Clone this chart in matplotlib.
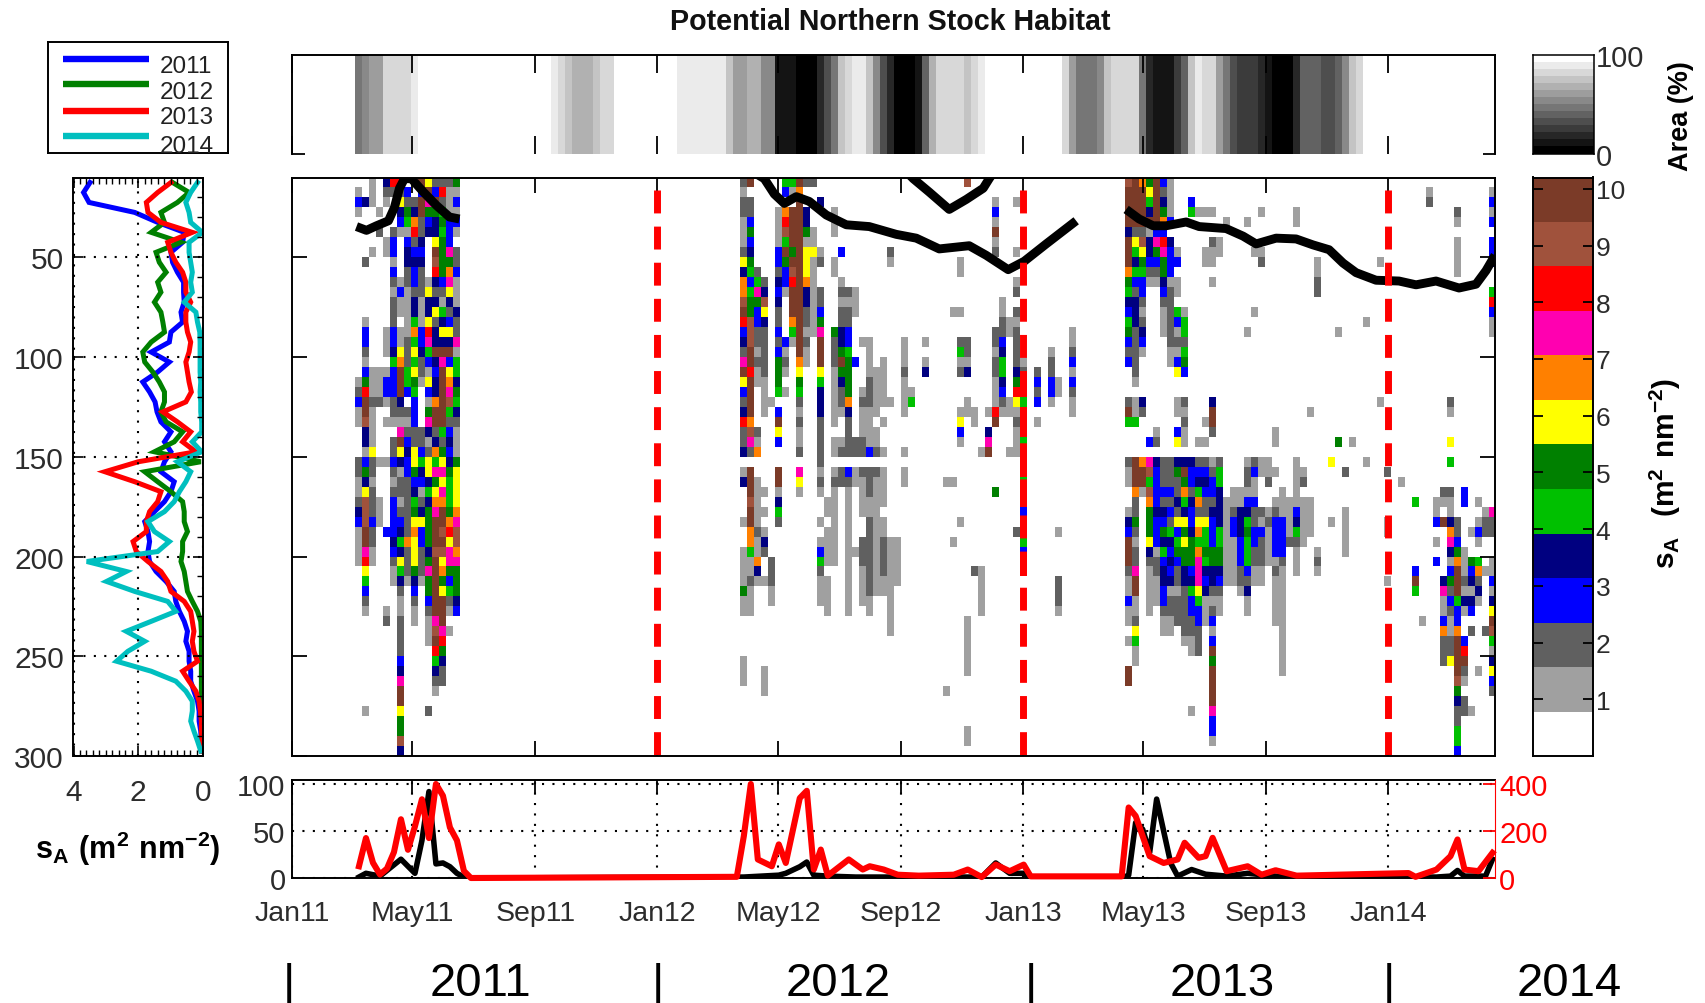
import numpy as np
import matplotlib
matplotlib.use("Agg")
import matplotlib.pyplot as plt
from matplotlib.colors import ListedColormap, BoundaryNorm, Normalize
from matplotlib.ticker import FixedLocator

plt.rcParams['font.family'] = ['Liberation Sans', 'DejaVu Sans']
plt.rcParams['mathtext.fontset'] = 'custom'
plt.rcParams['mathtext.rm'] = 'Liberation Sans'
plt.rcParams['mathtext.bf'] = 'Liberation Sans:bold'

W, H = 1706, 1004

# ---------- data ----------
TITLE = "Potential Northern Stock Habitat"
TICK_DAYS = [0, 120, 243, 365, 486, 609, 731, 851, 974, 1096]
TICK_LABELS = ["Jan11", "May11", "Sep11", "Jan12", "May12", "Sep12", "Jan13", "May13", "Sep13", "Jan14"]
NEW_YEAR_DAYS = [365, 731, 1096]
DEPTH_TICKS = [50, 100, 150, 200, 250, 300]
YEARS = ["2011", "2012", "2013", "2014"]

# Weekly Area (%) per week index; weeks not listed are 100
AREA_SEGMENTS = {
    9: [44, 50, 62, 63, 82, 82, 82, 82, 91],
    31: [97],
    37: [91, 82, 72, 66, 66, 66, 72, 82, 82],
    55: [91, 91, 91, 91, 91, 91, 91, 75, 63, 63, 66, 66, 55, 50, 11, 11, 11, 0, 0, 0, 20, 30, 44, 75, 85, 91, 91,
         75, 50, 31, 16, 0, 0, 0, 12, 38, 69, 82, 82, 82, 82, 75, 80, 91],
    110: [82, 63, 44, 44, 44, 50, 75, 82, 82, 82, 82, 45, 16, 11, 11, 14, 25, 40, 75, 91, 82, 82, 63, 44, 35, 25,
          25, 25, 20, 11, 6, 0, 0, 19, 38, 38, 38, 31, 31, 38, 50, 75, 85],
}

# Mean profile sA per 5 m depth bin
PROFILE_DEPTHS = [12.5 + 5 * i for i in range(58)]
P2011 = [3.49, 3.69, 3.52, 2.11, 1.4, .58, .63, .99, .94, .79, .6, .6, .58, .68, .63, .99, 1.04, 1.6, 1.04, 1.4,
         1.86, 1.65, 1.48, 1.42, 1.3, .99, 1.19, .99, 1.19, 1.3, .89, .99, 1.19, 1.5, 1.8, 1.7, 1.65, 1.7, 1.65,
         1.45, 1.14, .89, .84, .73, .58, .48, .53, .43, .43, .38, .38, .28, .17, .12, .12, .07, .05, .02]
P2012 = [.94, .43, .79, 1.3, 1.19, 1.6, .68, 1.45, 1.35, 1.14, 1.4, 1.3, 1.5, 1.3, 1.24, 1.19, 1.6, 1.86, 1.8, 1.55,
         1.35, 1.19, 1.19, 1.3, 1.14, .63, .89, 1.5, .07, 1.8, 1.4, .99, .63, .58, .58, .48, .63, .63, .68, .58,
         .53, .48, .33, .17, .07, .05, .05, .05, .05, .05, .05, .05, .04, .04, .03, .03, .03, .02]
P2013 = [.99, 1.4, 1.75, 1.7, 1.3, .33, 1.09, .99, .84, .63, .53, .53, .38, .53, .53, .48, .38, .43, .53, .48, .43,
         .36, .53, 1.24, .79, .38, .63, .22, 2.0, 3.03, 2.11, 1.3, 1.4, 1.65, 1.75, 1.75, 2.16, 2.06, 1.7, 1.3,
         1.09, .99, .58, .38, .33, .28, .33, .28, .17, .63, .43, .22, .12, .08, .05, .05, .03, .02]
P2014 = [.17, .38, .53, .43, .38, .02, .43, .43, .38, .33, .38, .33, .58, .22, .17, .1, .09, .09, .09, .09, .07, .09,
         .07, .07, .04, .04, .33, .04, .79, .38, .53, .73, .89, 1.19, 1.7, 1.5, 1.04, 1.4, 3.59, 2.37, 2.98, 2.11,
         1.09, .84, 1.6, 2.37, 1.8, 2.32, 2.67, 1.6, .84, .53, .33, .33, .38, .28, .17, .07]
PROFILE_SERIES = [P2011, P2012, P2013, P2014]
PROFILE_COLORS = ["#0000FF", "#008000", "#FF0000", "#00BFBF"]

# Black line: days since Jan 2011, depth (m)
LINE_A_DAY = [64, 74, 84, 96, 102, 107, 112, 119, 131, 144, 157, 167]
LINE_A_DEPTH = [34.6, 36.5, 34.2, 31.7, 25, 15.4, 10.6, 10.6, 17.3, 24, 29.8, 30.8]
LINE_B_DAY = [460, 472, 482, 492, 504, 517, 534, 554, 577, 604, 624, 647, 677, 694, 716, 732, 754, 784]
LINE_B_DEPTH = [7, 10.6, 18.3, 23, 19.6, 22, 28.8, 33.7, 34.6, 38.5, 40.4, 45.8, 44.2, 49, 56.2, 52, 43.3, 31.7]
LINE_C_DAY = [612, 621, 637, 657, 674, 691, 697, 703]
LINE_C_DEPTH = [6, 10.6, 17.3, 26, 21, 15.4, 10.6, 6]
LINE_D_DAY = [834, 847, 861, 874, 894, 907, 934, 951, 964, 984, 1004, 1021, 1037, 1051, 1064, 1084, 1107, 1124,
              1144, 1167, 1184, 1194, 1203]
LINE_D_DEPTH = [26, 30.8, 34.2, 34.2, 32.3, 34.6, 35.6, 39.4, 43.3, 40.4, 40.8, 43.8, 46.2, 52.9, 57.7, 61.5, 61.9,
                63.8, 61.9, 65.4, 63.5, 56.7, 49]

# Lower panel: week index and value
RED_WEEK = [9, 10, 11, 12, 13, 14, 15, 16, 17, 18, 19, 20, 21, 22, 23, 24, 25, 63, 64, 65, 66, 68, 69, 70, 72, 73, 74,
            75, 76, 79, 81, 82, 84, 86, 89, 94, 96, 98, 100, 102, 104, 105, 118, 119, 120, 122, 124, 126, 127, 129,
            130, 131, 133, 136, 138, 140, 143, 159, 160, 163, 165, 166, 167, 169, 171]
RED_VAL = [50, 170, 65, 15, 40, 110, 250, 120, 220, 335, 170, 400, 350, 215, 160, 30, 0, 5, 178, 400, 79, 50, 143, 64,
           340, 371, 36, 121, 10, 79, 36, 50, 36, 14, 10, 14, 36, 4, 57, 29, 57, 7, 7, 300, 264, 93, 64, 79, 150,
           86, 93, 171, 29, 50, 14, 33, 10, 21, 5, 36, 93, 164, 36, 29, 107]
BLACK_WEEK = [9, 10, 12, 15, 17, 18, 19, 20, 21, 22, 23, 24, 25, 64, 69, 70, 72, 73, 74, 76, 80, 90, 98, 100, 102, 104,
              105, 118, 119, 120, 121, 122, 123, 124, 125, 126, 128, 130, 133, 136, 140, 143, 163, 165, 166, 167, 170,
              171]
BLACK_VAL = [1, 5, 2, 20, 5, 40, 92, 15, 16, 12, 5, 1, 0, 1, 3, 5, 12, 17, 3, 2, 1, 1, 1, 16, 5, 5, 0, 0, 3, 59, 52, 27,
             84, 50, 16, 2, 9, 4, 2, 5, 2, 1, 1, 2, 8, 2, 2, 20]

# Band codes: . white, 1 grey, 2 dark grey, 3 blue, 4 navy, 5 green, 6 dark green, 7 yellow, 8 orange, 9 magenta,
# r red, s sienna, b brown. week index -> "first depth row: codes; ..."
SA_CELLS = {
    9: "1:131; 20:12311; 28:22112431111",
    10: "2:4; 8:2; 14:133213 6rbbs 44136 47sss bb9r7 5321; 53:1",
    11: "0:111; 7:1; 19:111; 22:2; 23:1111; 27:7; 28:22; 30:1; 31:222; 34:3; 35:22; 37:11",
    12: "3:1; 5:2; 19:111; 22:2; 28:1; 32:111",
    13: "0:4; 1:21; 6:11; 15:111; 19:133; 22:1; 24:1; 28:1; 35:3; 43:12",
    14: "0:r2; 5:233; 8:1; 9:321; 12:222; 15:3345333 221 . 2232 12 3333 432 11",
    15: "0:r27431; 10:1311. 1178b bb421 9b741 22123 45475 42112 22234 9bb76 6s4",
    16: "1:32651 34422 11111 22255 3.212 34332 22222 82221",
    17: "2:248r2 34332 44585 75765 33322 77634 56787 77643 211",
    18: "0:b3bb2 24342 22111 33422 1.... 22354 31247 33222 1",
    19: "0:7b963 4.... 17447 r9531 73169 41277 45466 66469 66321 11; 53:2",
    20: "0:23b64 47bsr 42472 44b43 448bb 24859 6789b bbsbb bbbb9 sbr54 21",
    21: "0:2r256 56666 32154 74b9b bbbbb 52679 798bb sbs78 67bbb 9r642 2",
    22: "0:21113 33968 97423 74b37 89s52 34346 55568 r7996 3521. 1",
    23: "0:61313 1.223 11142 29155 46542 11167 77789 ss896 6643",
    64: "0:21221 11274 88sbr 3429b 7324r 224; 29:14; 34:1; 37:1111611; 48:111",
    65: "0:b; 2:22363 46535 66sss bbrbb bb8s9 2; 29:bbbsb b8851 12111",
    66: "9:25963 32212 11; 25:218; 30:11111 21184 1",
    67: "10:24s74 22222 1111; 31:1; 33:1; 35:142; 40:1; 49:111",
    68: "22:1; 38:22211",
    69: "3:11113 32434 22323 6665; 23:3b73; 29:bb145 2",
    70: "0:53.8r s5b63 31; 16:31; 18:21; 21:1",
    71: "0:51.bb bb6bs rbbb8 51",
    72: "0:b8bbb bbbbb bbbbb bbb87 65212 112; 29:971",
    73: "0:2; 3:44617 77844 22121 1",
    74: "0:2; 5:11711 11111 1",
    75: "2:4; 7:12; 11:22 36 9bbb7 54442 2222; 29:121; 34:1; 36:135 2111",
    76: "32:11; 35:1111; 40:1111",
    77: "3:111; 8:11; 15:62221 11111; 26:11; 29:12111 11111",
    78: "7:3; 10:12122 44 6b642 21; 26:12; 29:22",
    79: "11:21223 35666 68422 22; 29:32111 11111 11111",
    80: "11:111; 18:3; 26:22; 29:11; 37:1",
    81: "16:1; 21:12111 22; 29:21111; 36:22211 11",
    82: "16:11112 22111 13; 29:22211 22222 22211",
    83: "19:11111; 25:112; 29:21111; 34:11111 111",
    84: "18:11111; 24:1; 27:1; 29:11 11; 34:11222 211",
    85: "7:21; 22:1; 36:11111 11111",
    86: "36:11111",
    87: "16:11121 111; 27:1; 29:11",
    88: "21:15",
    90: "16:1; 18:14",
    93: "30:1; 51:1",
    94: "13:1; 30:1; 36:1",
    95: "8:11; 13:1; 16:25; 18:12; 23:173 1; 34:1",
    96: "0:s; 16:22; 18:14; 22:11; 44:111111; 55:11",
    97: "23:11; 39:2",
    98: "27:1; 39:11111",
    99: "23:1; 25:49b",
    100: "2:131b1 2; 15:22122 1 11rb; 31:6",
    101: "12:11223 45543 21",
    102: "14:11; 22:11; 27:1",
    103: "2:1; 7:1; 10:12; 13:21222 24 6r7 12111; 35:2",
    104: "18:12rr5 rrr52 rr5rr 3rr53 rr",
    106: "19:2323; 24:1",
    108: "17:12233 1",
    109: "20:11; 35:1; 40:2221",
    111: "15:11231 3211",
    119: "0:sbbbb 4bbb8 65435 6323. ..2b5; 28:211; 33:143bb b2113 11; 46:1; 49:bb",
    120: "0:bbbbb 27545 32444 22222 1; 22:115; 28:bbb82 2621 22; 38:29bb1 12751 1",
    121: "0:8bbbb 2s765 33212 431; 22:42; 28:8bb1",
    122: "0:6754b 14432 1; 26:3; 28:9s5s8 66674 21111 1",
    123: "0:bbbbb 39632 1; 25:12; 28:43333 43331 22111",
    124: "0:32468 3r966 4321 11; 28:22232 43645 34433 211",
    125: "0:11113; 6:43331 22222 2 11; 28:22232 32543 43412 211",
    126: "7:13; 10:11; 13:53121 37; 22:11; 25:37; 28:46224 27356 32212 22",
    127: "13:15525 63; 22:21211; 28:4b685 47676 64422 2221",
    128: "2:35; 28:43324 33466 63453 32211; 53:1",
    129: "3:1; 26:1; 28:23458 27858 99975 33222",
    130: "3:1; 7:11; 24:1; 26:1; 28:23432 27556 54341 11",
    131: "3:1; 6:211; 10:1; 22:4bb2; 28:12332 43336 64421 23133; 47:b6bbb b9331",
    132: "6:11; 28:25544 44556 64321 1",
    133: "4:1; 32:1 11111 111",
    134: "31:11233 11111",
    135: "31:11444 33322 1",
    136: "4:1; 15:1; 28:12213 45655 53241 1",
    137: "7:1; 13:1; 28:23113 22332 211",
    138: "3:1; 7:12; 28:11; 33:21322 211",
    139: "28:112; 33:12111 1",
    140: "25:11; 29:1; 32:12333 31211 111",
    141: "31:11133 33211 11111 1111",
    142: "32:11112",
    143: "3:11; 28:11111 34521 11",
    144: "29:12; 32:11111",
    145: "23:1; 32:1111",
    146: "8:1122; 37:121",
    148: "28:7; 34:1",
    149: "15:1; 26:6",
    150: "29:2; 33:11111",
    151: "26:1",
    153: "14:1; 28:1",
    155: "8:1; 22:1",
    156: "29:2; 34:11; 40:1",
    158: "30:1",
    160: "32:5; 39:3b5",
    161: "44:1",
    162: "1:12",
    163: "32:113; 36:1; 38:3",
    164: "31:21; 34:b; 40:49113 8 22 2",
    165: "22:21; 26:7; 28:5; 31:21148 9413 62321 1227",
    166: "3:21; 6:1111; 34:22368 bbb53 38bbb bs642 2553",
    167: "31:33; 37:11121 41; 46:3rb21; 52:22",
    168: "35:1; 38:63414 3 .2; 53:1",
    169: "32:1; 34:131; 38:58241; 49:1",
    170: "33:122; 39:1; 45:2",
    171: "1:13 13; 6:334; 11:5r311; 33:922; 38:11314 7bs51 473 2",
    172: "0:3333; 6:3333; 28:r3; 37:b; 46:3",
}

# Colour table
SA_COLORS = ["#FFFFFF", "#A0A0A0", "#606060", "#0000FF", "#000080", "#00C000", "#008000", "#FFFF00", "#FF8000",
             "#FF00B0", "#FF0000", "#A0523C", "#7B3B28"]
BAND_CODES = ".123456789rsb"
SA_MAX = 10.2


def fig_axes(fig, left, top, right, bottom, **kw):
    return fig.add_axes([left / W, 1 - bottom / H, (right - left) / W, (bottom - top) / H], **kw)


def style(ax, lw=1.4):
    for s in ax.spines.values():
        s.set_linewidth(lw)


def xticks(ax, length=9):
    ax.set_xticks(TICK_DAYS)
    ax.tick_params(axis='x', direction='in', top=True, bottom=True, length=length, width=1.3, labelbottom=False)


def bar_edges(n, step):
    return np.arange(n + 1) * step


TXT = '#2c2c2c'
fig = plt.figure(figsize=(W / 100, H / 100), dpi=100)
L, R = 292.5, 1495
MAIN_TOP, MAIN_BOTTOM = 178.5, 757
DAY_MAX = 1203
N_WEEK = 173
N_ROW = len(PROFILE_DEPTHS)

fig.text(890 / W, 1 - 22.5 / H, TITLE, ha='center', va='center', fontsize=20.6, fontweight='bold', color='#111111')

# Legend box
lg = fig_axes(fig, 48, 43, 228, 154)
lg.set_xlim(48, 228)
lg.set_ylim(154, 43)
lg.set_xticks([])
lg.set_yticks([])
style(lg)
for y, ty, c, t in zip([60, 85, 112, 137], [67, 93, 118, 147], PROFILE_COLORS, YEARS):
    lg.plot([63, 149], [y, y], color=c, lw=4.6, solid_capstyle='butt')
    lg.text(160, ty, t, va='center', ha='left', fontsize=17.5, color='#222222', clip_on=True)

# Area strip
area = np.full((1, N_WEEK), 100.0)
for start, vals in AREA_SEGMENTS.items():
    area[0, start:start + len(vals)] = vals
gray14 = plt.get_cmap('gray', 14)
ax_s = fig_axes(fig, L, 56, R, 154.5)
ax_s.pcolormesh(bar_edges(N_WEEK, 7), [0, 1], area, cmap=gray14, norm=Normalize(0, 100))
ax_s.set_xlim(0, DAY_MAX)
ax_s.set_ylim(0, 1)
ax_s.spines['bottom'].set_visible(False)
style(ax_s)
xticks(ax_s, 13)
ax_s.set_yticks([0])
ax_s.tick_params(axis='y', direction='in', left=True, right=True, length=9, width=1.3, labelleft=False)

# Area colour bar
ax_ac = fig_axes(fig, 1533, 56, 1594, 154.5)
ax_ac.pcolormesh([0, 1], np.linspace(0, 100, 15), np.linspace(0, 100, 14)[:, None], cmap=gray14, norm=Normalize(0, 100))
ax_ac.set_xticks([])
ax_ac.set_yticks([0, 100])
ax_ac.yaxis.tick_right()
ax_ac.tick_params(axis='y', length=0, labelsize=21, labelcolor=TXT, pad=1)
style(ax_ac, 1.1)
fig.text(1681 / W, 1 - 116 / H, "Area (%)", rotation=90, ha='center', va='center', fontsize=19.5, fontweight='bold')

# Main grid of sA
grid = np.zeros((N_ROW, N_WEEK))
band_width = SA_MAX / len(SA_COLORS)
for week, text in SA_CELLS.items():
    for seg in text.split(';'):
        seg = seg.replace(' ', '')
        if ':' not in seg:
            continue
        start, codes = seg.split(':')
        for i, ch in enumerate(codes):
            row = int(start) + i
            if row < N_ROW:
                grid[row, week] = (BAND_CODES.index(ch) + 0.5) * band_width
sa_cmap = ListedColormap(SA_COLORS)
sa_norm = BoundaryNorm(np.linspace(0, SA_MAX, len(SA_COLORS) + 1), len(SA_COLORS))
ax_m = fig_axes(fig, L, MAIN_TOP, R, MAIN_BOTTOM)
ax_m.pcolormesh(bar_edges(N_WEEK, 7), 10 + bar_edges(N_ROW, 5), grid, cmap=sa_cmap, norm=sa_norm)
for xs, ys in [(LINE_A_DAY, LINE_A_DEPTH), (LINE_B_DAY, LINE_B_DEPTH), (LINE_C_DAY, LINE_C_DEPTH),
               (LINE_D_DAY, LINE_D_DEPTH)]:
    ax_m.plot(xs, ys, color='black', lw=6.4, solid_joinstyle='round', solid_capstyle='butt')
for d in NEW_YEAR_DAYS:
    ax_m.plot([d, d], [16.3, 300], color='#FF0000', lw=5, linestyle=(0, (3.3, 1.9)), dash_capstyle='butt')
ax_m.set_xlim(0, DAY_MAX)
ax_m.set_ylim(300, 10)
style(ax_m)
xticks(ax_m, 11)
ax_m.set_yticks(DEPTH_TICKS)
ax_m.tick_params(axis='y', direction='in', left=True, right=True, length=11, width=1.3, labelleft=False)

# sA colour bar
ax_c = fig_axes(fig, 1533, MAIN_TOP, 1593, MAIN_BOTTOM)
ax_c.pcolormesh([0, 1], np.linspace(0, SA_MAX, len(SA_COLORS) + 1),
                ((np.arange(len(SA_COLORS)) + 0.5) * band_width)[:, None], cmap=sa_cmap, norm=sa_norm)
ax_c.set_ylim(0, SA_MAX)
ax_c.set_xticks([])
ax_c.set_yticks(range(1, 11))
ax_c.yaxis.tick_right()
ax_c.tick_params(axis='y', direction='in', left=True, right=True, length=7, width=1.3, labelsize=19,
                 labelcolor=TXT, pad=2)
style(ax_c)
fig.text(1665 / W, 1 - 473 / H, r'$\mathbf{s_A\ \ (m^2\ nm^{-2})}$', rotation=90, ha='center', va='center',
         fontsize=21.5)

# Profile panel
ax_p = fig_axes(fig, 73.5, MAIN_TOP, 203, MAIN_BOTTOM)
for vals, c in zip(PROFILE_SERIES, PROFILE_COLORS):
    ax_p.plot(vals, PROFILE_DEPTHS, color=c, lw=3.6, solid_joinstyle='miter')
ax_p.set_xlim(4, 0)
ax_p.set_ylim(300, 10)
ax_p.set_xticks([0, 2, 4])
ax_p.set_xticklabels(['0', '2', '4'])
ax_p.set_yticks(DEPTH_TICKS)
ax_p.xaxis.set_minor_locator(FixedLocator([i / 5 for i in range(21)]))
ax_p.yaxis.set_minor_locator(FixedLocator(list(range(20, 300, 10))))
ax_p.tick_params(axis='y', which='major', direction='in', top=True, right=True, length=7, width=1.2,
                 labelsize=21.5, labelcolor=TXT, pad=7)
ax_p.tick_params(axis='x', which='major', direction='in', top=True, right=True, length=7, width=1.2,
                 labelsize=21.5, labelcolor=TXT, pad=16)
ax_p.tick_params(axis='both', which='minor', direction='in', top=True, right=True, left=False, length=4, width=1.0)
ax_p.grid(True, which='major', color='black', linestyle=(0, (1, 4)), lw=1.5)
ax_p.set_axisbelow(False)
style(ax_p)
fig.text(128 / W, 1 - 849 / H, r'$\mathbf{s_A\ (m^2\ nm^{-2})}$', ha='center', va='center', fontsize=22)

# Bottom panel
ax_b = fig_axes(fig, L, 781, R, 879)
ax_b.plot(np.array(BLACK_WEEK) * 7 + 3.5, BLACK_VAL, color='black', lw=4.0)
ax_b.set_xlim(0, DAY_MAX)
ax_b.set_ylim(0, 104.3)
ax_b.set_yticks([0, 50, 100])
ax_b.set_xticks(TICK_DAYS)
ax_b.set_xticklabels(TICK_LABELS)
ax_b.tick_params(axis='x', direction='in', top=True, bottom=False, length=9, width=1.3, labelsize=20.5,
                 labelcolor=TXT, pad=16)
ax_b.tick_params(axis='y', direction='in', left=False, length=0, labelsize=21, labelcolor=TXT, pad=5)
ax_b.grid(True, color='black', linestyle=(0, (1, 4)), lw=1.5)
ax_b.set_axisbelow(True)
ax_b.spines['right'].set_visible(False)
style(ax_b)
ax_r = ax_b.twinx()
ax_r.plot(np.array(RED_WEEK) * 7 + 3.5, RED_VAL, color='#FF0000', lw=4.4, clip_on=False)
ax_r.set_ylim(0, 417)
ax_r.set_yticks([0, 200, 400])
ax_r.tick_params(axis='y', direction='in', colors='#FF0000', length=9, width=1.3, labelsize=21, pad=3)
ax_r.spines['right'].set_color('#FF0000')
ax_r.spines['top'].set_visible(False)
ax_r.spines['left'].set_visible(False)
ax_r.spines['bottom'].set_visible(False)

# Year labels
for x in [289, 658, 1031, 1389]:
    fig.text(x / W, 1 - 985 / H, "|", ha='center', va='center', fontsize=34, color='black')
for x, t in zip([480, 838, 1222, 1569], YEARS):
    fig.text(x / W, 1 - 984 / H, t, ha='center', va='center', fontsize=34, color='black')

fig.savefig("out.png", dpi=100)
